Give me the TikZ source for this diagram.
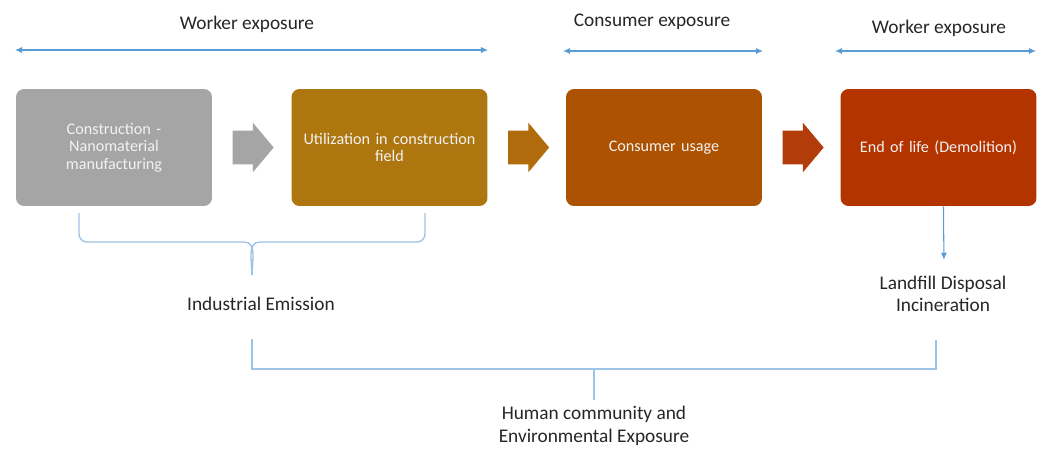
\documentclass[tikz,border=0pt]{standalone}
\usepackage{fontspec}
\setmainfont{Carlito}
\usetikzlibrary{arrows.meta,shapes.arrows}
\definecolor{stgray}{RGB}{165,165,165}
\definecolor{stochre}{RGB}{174,118,14}
\definecolor{stbrown}{RGB}{173,82,0}
\definecolor{stred}{RGB}{180,52,0}
\definecolor{arrochre}{RGB}{176,108,12}
\definecolor{arrred}{RGB}{178,60,10}
\definecolor{expblue}{RGB}{91,155,213}
\definecolor{brblue}{RGB}{157,195,230}
\definecolor{txtdark}{RGB}{38,38,38}

\begin{document}
\begin{tikzpicture}[x=0.02cm, y=-0.02cm,
  stagebox/.style={rectangle, rounded corners=0.16cm, minimum width=3.92cm,
    minimum height=2.34cm, text width=3.6cm, align=center, inner sep=0pt,
    font=\fontsize{9.2}{10}\selectfont, text=white!95!black},
  flowarrow/.style={single arrow, minimum width=0.98cm, minimum height=0.82cm,
    single arrow head extend=0.16cm, single arrow tip angle=100,
    inner xsep=0pt, inner ysep=0.33cm, anchor=tail, xshift=0.4cm},
  lbl/.style={align=center, text=txtdark, font=\fontsize{11}{12.8}\selectfont},
  exparrow/.style={expblue, line width=0.6pt, {Latex[length=4pt,width=3.5pt]}-{Latex[length=4pt,width=3.5pt]}},
  bracketline/.style={brblue, line width=0.8pt},
  downarrow/.style={expblue, line width=0.6pt, -{Latex[length=4pt,width=3.5pt]}}]
\useasboundingbox (0,0) rectangle (1046,450);

% life cycle stages
\node[stagebox, fill=stgray] (manu) at (114,147.5) {Construction -\\ Nanomaterial\\ manufacturing};
\node[stagebox, fill=stochre] (util) at (389.5,147.5) {Utilization in construction\\ field};
\node[stagebox, fill=stbrown] (usage) at (664,147.5) {Consumer usage};
\node[stagebox, fill=stred] (eol) at (938.5,147.5) {End of life (Demolition)};

% block arrows between the stages
\node[flowarrow, fill=stgray] (a1) at (manu.east) {};
\node[flowarrow, fill=arrochre] (a2) at (util.east) {};
\node[flowarrow, fill=arrred] (a3) at (usage.east) {};

% exposure ranges
\node[lbl] (wexp1) at (247,24) {Worker exposure};
\node[lbl] (cexp) at (652,22) {Consumer exposure};
\node[lbl] (wexp2) at (939,28) {Worker exposure};
\coordinate (w1l) at (15,50);
\coordinate (w1r) at (488,50);
\coordinate (cl) at (563,51);
\coordinate (cr) at (763,51);
\coordinate (w2l) at (835,51);
\coordinate (w2r) at (1036,51);
\draw[exparrow] (w1l) -- (w1r);
\draw[exparrow] (cl) -- (cr);
\draw[exparrow] (w2l) -- (w2r);

% industrial emission brace
\node[lbl] (indem) at (261,304) {Industrial Emission};
\coordinate (btip) at (252,275);
\draw[bracketline] (79,213) -- (79,234) to[out=-90,in=180] (87,242) -- (244,242)
  to[out=0,in=90] (btip);
\draw[bracketline] (425,213) -- (425,234) to[out=-90,in=0] (417,242) -- (260,242)
  to[out=180,in=90] (btip);

% end of life outcome
\node[lbl] (landfill) at (943,294) {Landfill Disposal\\ Incineration};
\draw[downarrow, shorten >=0.2cm] ([xshift=0.1cm]eol.south) -- ([xshift=0.02cm]landfill.north);

% community exposure
\node[lbl, font=\fontsize{11}{13}\selectfont] (human) at (594,426) {Human community and\\ Environmental Exposure};
\coordinate (ifoot) at (252,339);
\coordinate (lfoot) at (936,340);
\coordinate (hjoin) at (594,369);
\draw[bracketline] (ifoot) |- (hjoin) -| (lfoot);
\draw[bracketline] (hjoin) -- (human.north);
\end{tikzpicture}
\end{document}
